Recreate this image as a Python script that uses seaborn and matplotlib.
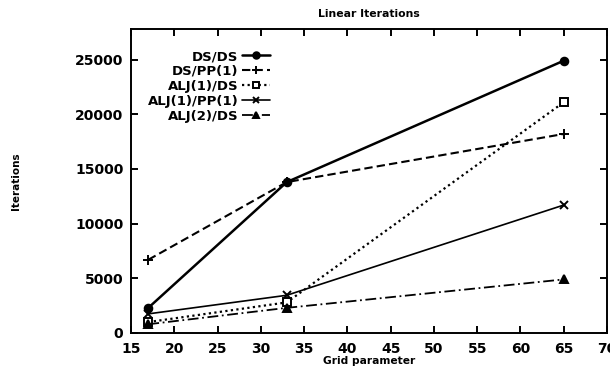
import matplotlib
matplotlib.use("Agg")
import matplotlib.pyplot as plt
import seaborn as sns
import pandas as pd

grid = [17, 33, 65]
ds_ds = [2300, 13800, 24900]
ds_pp1 = [6700, 13800, 18200]
alj1_ds = [1000, 2800, 21100]
alj1_pp1 = [1750, 3450, 11700]
alj2_ds = [800, 2300, 4900]

series_names = ["DS/DS", "DS/PP(1)", "ALJ(1)/DS", "ALJ(1)/PP(1)", "ALJ(2)/DS"]
series_vals = [ds_ds, ds_pp1, alj1_ds, alj1_pp1, alj2_ds]

x_ticks = [15, 20, 25, 30, 35, 40, 45, 50, 55, 60, 65, 70]
y_ticks = [0, 5000, 10000, 15000, 20000, 25000]

sns.set_style("ticks")
plt.rcParams["font.family"] = ["DejaVu Sans"]
plt.rcParams["font.weight"] = "bold"
plt.rcParams["text.color"] = "black"
plt.rcParams["axes.labelcolor"] = "black"
plt.rcParams["xtick.color"] = "black"
plt.rcParams["ytick.color"] = "black"
plt.rcParams["axes.edgecolor"] = "black"

fig = plt.figure(figsize=(6.1, 3.7), dpi=100)
ax = fig.add_axes([131 / 610, 1 - 333 / 370, 476 / 610, 304 / 370])

styles = {
    "DS/DS": dict(marker="o", ms=5.5, lw=1.8, dashes=None, mfc="black"),
    "DS/PP(1)": dict(marker="+", ms=6.5, lw=1.5, dashes=(4, 2), mfc="black"),
    "ALJ(1)/DS": dict(marker="s", ms=5.5, lw=1.6, dashes=(1, 1.5), mfc="white"),
    "ALJ(1)/PP(1)": dict(marker="x", ms=5.5, lw=1.2, dashes=None, mfc="black"),
    "ALJ(2)/DS": dict(marker="^", ms=5.5, lw=1.3, dashes=(6, 2, 1, 2), mfc="black"),
}

for name, vals in zip(series_names, series_vals):
    st = styles[name]
    df = pd.DataFrame({"grid": grid, "iters": vals})
    sns.lineplot(data=df, x="grid", y="iters", ax=ax, color="black",
                 marker=st["marker"], markersize=st["ms"], linewidth=st["lw"],
                 markerfacecolor=st["mfc"], markeredgecolor="black",
                 markeredgewidth=1.4, label=name)
    line = ax.get_lines()[-1]
    if st["dashes"] is not None:
        line.set_dashes(st["dashes"])

ax.set_xlim(15, 70)
ax.set_ylim(0, 27800)
ax.set_xticks(x_ticks)
ax.set_yticks(y_ticks)
ax.set_xticklabels([str(t) for t in x_ticks], fontsize=10, fontweight="bold")
ax.set_yticklabels([str(t) for t in y_ticks], fontsize=10, fontweight="bold")
ax.tick_params(direction="in", length=5, width=1.4, top=True, right=True,
               labelsize=10, colors="black")
ax.tick_params(axis="x", pad=6.5)
ax.tick_params(axis="y", pad=5.5)
for sp in ax.spines.values():
    sp.set_visible(True)
    sp.set_linewidth(1.4)
    sp.set_color("black")

ax.set_xlabel("Grid parameter", fontsize=7.7, fontweight="bold", color="black")
ax.xaxis.set_label_coords(0.5, -0.092)
ax.xaxis.label.set_va("center")
ax.set_ylabel("Iterations", fontsize=7.5, fontweight="bold", color="black")
ax.yaxis.set_label_coords((16 - 131) / 476, 0.5)
ax.yaxis.label.set_va("center")
ax.yaxis.label.set_ha("center")
ax.set_title("Linear Iterations", fontsize=7.8, fontweight="bold", y=1.049,
             va="center", pad=0, color="black")

leg = ax.legend(loc="upper right", bbox_to_anchor=((270 - 131) / 476, (333 - 50) / 304),
                frameon=False, markerfirst=False, fontsize=9.5,
                handlelength=2.1, handletextpad=0.3, labelspacing=0.15,
                borderpad=0, borderaxespad=0, numpoints=1, markerscale=0.85)
for t in leg.get_texts():
    t.set_fontweight("bold")
    t.set_color("black")

fig.savefig("out.png", dpi=100)
